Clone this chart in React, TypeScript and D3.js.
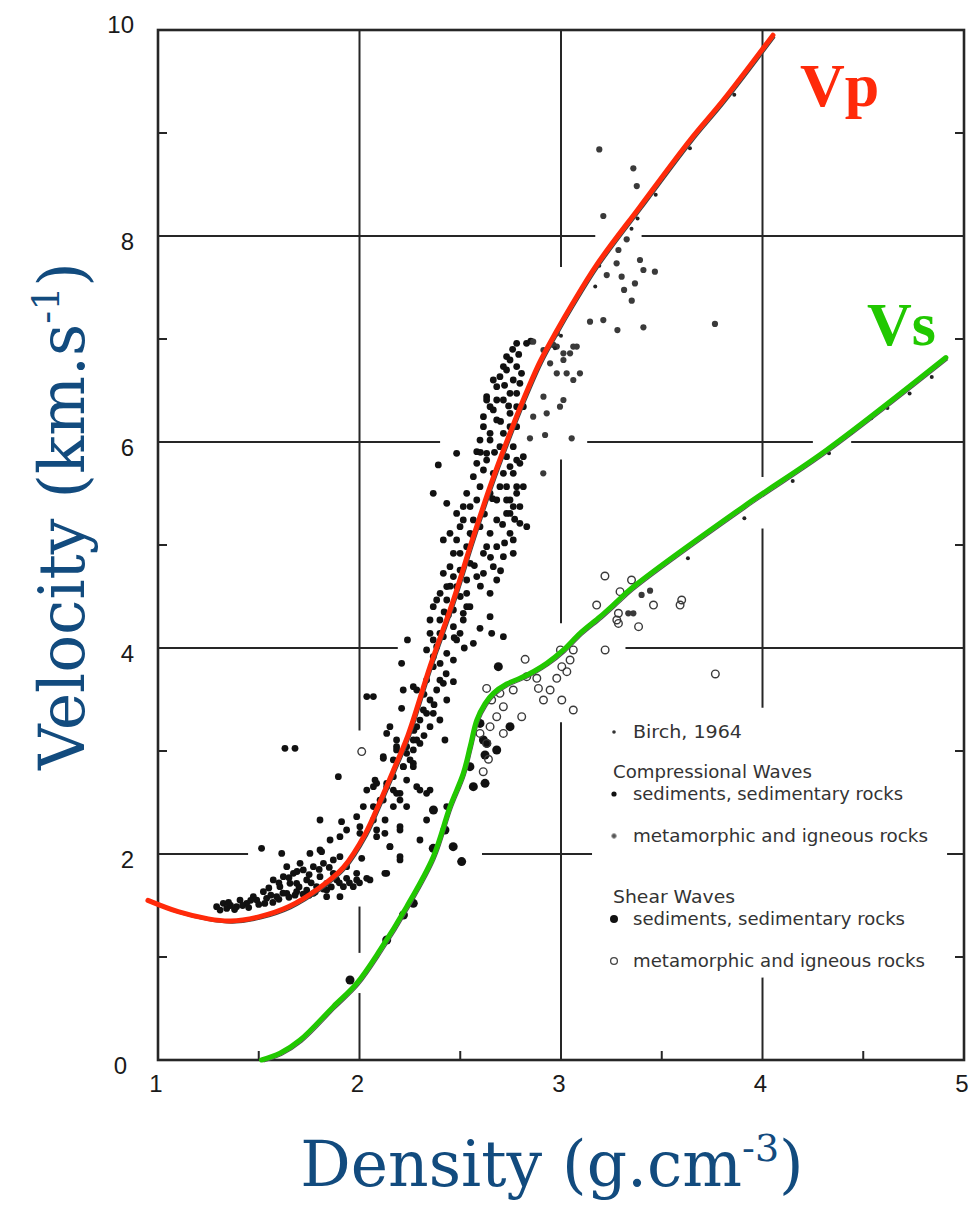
import React from "react";
import * as d3 from "d3";

const W = 980;
const H = 1207;

// axis ticks
const xTicks = [1, 2, 3, 4, 5];
const yTicks = [0, 2, 4, 6, 8, 10];
const xMinor = [1.5, 2.5, 3.5, 4.5];
const yMinor = [1, 3, 5, 7, 9];

// broken grid lines of the original figure: [position, from, to]
const gridV = [
  [2, 10, 3.2], [2, 1.49, 1.04], [2, 0.65, 0],
  [3, 10, 7.7], [3, 5.83, 4.24], [3, 3.28, 0],
  [4, 10, 5.66], [4, 5.16, 3.42], [4, 0.8, 0],
];
const gridH = [
  [8, 1, 3.17], [8, 3.4, 5],
  [6, 1, 2.4], [6, 3.13, 4.25], [6, 4.44, 5],
  [4, 1, 2.19], [4, 3.32, 5],
  [2, 1, 1.447], [2, 2.608, 3.154], [2, 4.916, 5],
];

// fitted curves (density, velocity)
const vpCurve = [
  [0.95, 1.55], [1.1, 1.44], [1.25, 1.37], [1.36, 1.35], [1.5, 1.39], [1.65, 1.49],
  [1.8, 1.67], [1.92, 1.87], [2.03, 2.2], [2.1, 2.5], [2.17, 2.82], [2.24, 3.15],
  [2.35, 3.82], [2.466, 4.466], [2.56, 5.05], [2.648, 5.566], [2.73, 6.0], [2.813, 6.41],
  [2.896, 6.78], [2.979, 7.08], [3.053, 7.33], [3.177, 7.72], [3.392, 8.285],
  [3.64, 8.93], [3.806, 9.32], [4.052, 9.95],
];
const vsCurve = [
  [1.514, 0], [1.605, 0.065], [1.705, 0.194], [1.87, 0.518], [1.986, 0.744],
  [2.102, 1.068], [2.234, 1.489], [2.366, 1.974], [2.449, 2.46], [2.515, 2.783],
  [2.55, 3.05], [2.582, 3.3], [2.623, 3.46], [2.664, 3.56], [2.73, 3.65], [2.796, 3.706],
  [2.862, 3.77], [2.929, 3.851], [3.012, 3.981], [3.094, 4.142], [3.194, 4.304],
  [3.277, 4.45], [3.35, 4.58], [3.905, 5.372], [4.318, 5.922], [4.91, 6.82],
];

// Birch, 1964 points along the curves
const birchP = [
  [2.96, 6.94], [2.99, 7.06], [3.16, 7.54], [3.18, 7.74], [3.34, 8.1], [3.37, 8.2],
  [3.46, 8.43], [3.63, 8.88], [3.85, 9.4],
];
const birchS = [
  [3.62, 4.9], [3.9, 5.29], [4.14, 5.65], [4.32, 5.92], [4.43, 6.12], [4.53, 6.26],
  [4.61, 6.36], [4.72, 6.5], [4.83, 6.66],
];

// Compressional waves — sediments, sedimentary rocks
const compSed = [
  [1.291, 1.489], [1.341, 1.472], [1.39, 1.489], [1.44, 1.521], [1.49, 1.553], [1.539, 1.57],
  [1.589, 1.586], [1.639, 1.618], [1.688, 1.634], [1.738, 1.65], [1.787, 1.683], [1.837, 1.715],
  [1.887, 1.748], [1.936, 1.764], [1.986, 1.748], [2.036, 1.764], [1.572, 1.748], [1.622, 1.78],
  [1.672, 1.812], [1.721, 1.845], [1.771, 1.877], [1.821, 1.909], [1.87, 1.942], [1.903, 1.974],
  [1.688, 1.715], [1.771, 1.618], [1.837, 1.586], [1.903, 1.586], [1.969, 1.683], [1.639, 1.877],
  [1.705, 1.909], [1.754, 2.006], [1.804, 2.039], [1.854, 2.136], [1.903, 2.168], [1.936, 2.233],
  [2.002, 2.265], [2.069, 2.33], [1.986, 2.362], [2.069, 2.46], [2.102, 2.524], [2.069, 2.654],
  [2.135, 2.686], [2.168, 2.621], [2.201, 2.589], [2.234, 2.718], [2.218, 2.848], [2.184, 3.042],
  [2.234, 2.977], [2.267, 2.88], [2.3, 3.074], [2.333, 2.589], [2.366, 2.427], [2.433, 2.46],
  [2.201, 2.265], [2.3, 2.136], [2.333, 2.33], [2.284, 2.654], [2.168, 2.46], [2.127, 2.33],
  [2.085, 2.168], [2.151, 2.071], [2.201, 1.942], [2.135, 1.812], [2.011, 1.958], [1.812, 2.023],
  [1.614, 2.006], [1.514, 2.055], [1.63, 3.026], [1.68, 3.026], [1.895, 2.751], [1.804, 2.33],
  [1.911, 2.314], [2.118, 2.929], [1.324, 1.521], [1.407, 1.553], [1.473, 1.586], [1.523, 1.634],
  [1.605, 1.683], [1.655, 1.715], [1.738, 1.748], [1.804, 1.78], [1.87, 1.812], [1.936, 1.877],
  [1.986, 1.812], [1.92, 1.683], [1.837, 1.65], [2.052, 1.748], [1.308, 1.456], [1.36, 1.5],
  [1.42, 1.5], [1.46, 1.55], [1.56, 1.6], [1.62, 1.62], [1.7, 1.68], [1.76, 1.72],
  [1.35, 1.53], [1.38, 1.46], [1.45, 1.48], [1.5, 1.51], [1.53, 1.52], [1.57, 1.53],
  [1.6, 1.56], [1.65, 1.58], [1.68, 1.6], [1.72, 1.61], [1.75, 1.6], [1.78, 1.63],
  [1.82, 1.66], [1.86, 1.68], [1.9, 1.72], [1.95, 1.72], [2.0, 1.72], [1.75, 1.8],
  [1.8, 1.85], [1.85, 1.87], [1.6, 1.72], [1.65, 1.77], [1.69, 1.83], [1.55, 1.67],
  [2.366, 4.401], [2.399, 4.272], [2.35, 4.142], [2.383, 4.013], [2.433, 3.948], [2.482, 4.078],
  [2.515, 4.272], [2.466, 4.369], [2.532, 4.401], [2.416, 4.11], [2.366, 3.819], [2.333, 3.689],
  [2.399, 3.689], [2.284, 3.592], [2.35, 3.495], [2.366, 3.366], [2.35, 3.236], [2.238, 4.078],
  [2.209, 3.851], [2.217, 3.592], [2.267, 3.625], [2.209, 3.414], [2.069, 3.528], [2.151, 3.236],
  [2.184, 3.107], [2.234, 3.042], [2.118, 2.945], [2.168, 2.913], [2.251, 2.913], [2.267, 2.848],
  [2.085, 2.686], [2.135, 2.654], [2.184, 2.589], [2.118, 2.524], [2.201, 2.524], [2.3, 2.621],
  [2.35, 2.621], [2.019, 2.46], [2.002, 2.201], [2.085, 2.233], [2.126, 2.201], [2.201, 2.233],
  [2.234, 2.46], [2.151, 2.071], [2.201, 1.974], [2.126, 1.812], [2.036, 3.528], [2.416, 3.657],
  [2.466, 3.673], [2.424, 3.107], [2.333, 3.366], [2.284, 3.107], [2.267, 3.01], [2.383, 4.466],
  [2.433, 4.466], [2.466, 4.207], [2.499, 4.142], [2.399, 4.142], [2.366, 3.916], [2.466, 3.883],
  [2.333, 3.981], [2.441, 4.32], [2.35, 4.272], [2.366, 4.078], [2.383, 3.592], [2.433, 3.495],
  [2.317, 3.398], [2.284, 3.236], [2.399, 3.301], [2.135, 3.171], [2.184, 3.01], [2.267, 3.107],
  [2.217, 2.848], [2.077, 2.718], [2.168, 2.751], [2.036, 2.621],
  [2.45, 4.6], [2.5, 4.5], [2.42, 4.35], [2.47, 4.1], [2.52, 4.0], [2.4, 3.85], [2.43, 3.75],
  [2.32, 3.55], [2.37, 3.45], [2.3, 3.3], [2.27, 3.2], [2.32, 3.15],
  [2.515, 4.337], [2.548, 4.401], [2.648, 4.304], [2.656, 4.142], [2.714, 4.11], [2.565, 4.045],
  [2.598, 4.191],
  [2.4, 4.531], [2.466, 4.693], [2.499, 4.919], [2.449, 5.113], [2.515, 5.243], [2.482, 5.307],
  [2.549, 5.372], [2.598, 5.178], [2.648, 5.113], [2.681, 5.243], [2.615, 4.919], [2.664, 4.79],
  [2.582, 4.693], [2.648, 4.531], [2.532, 4.531], [2.449, 4.79], [2.73, 5.437], [2.747, 5.307],
  [2.78, 5.502], [2.73, 5.566], [2.763, 5.696], [2.78, 5.825], [2.73, 5.858], [2.664, 5.696],
  [2.648, 5.502], [2.631, 5.89], [2.648, 6.019], [2.615, 6.149], [2.681, 6.214], [2.648, 6.343],
  [2.714, 6.408], [2.681, 6.537], [2.697, 6.634], [2.73, 6.699], [2.763, 6.602], [2.796, 6.57],
  [2.78, 6.473], [2.747, 6.278], [2.714, 6.084], [2.73, 6.829], [2.78, 6.958], [2.829, 6.958],
  [2.804, 6.667], [2.482, 5.89], [2.391, 5.777], [2.366, 5.502], [2.433, 5.405], [2.416, 5.049],
  [2.631, 6.44], [2.582, 5.906], [2.83, 5.178], [2.763, 5.049], [2.763, 4.919], [2.796, 5.21],
  [2.433, 4.596], [2.482, 4.596], [2.532, 4.66], [2.416, 4.725], [2.499, 4.757], [2.549, 4.822],
  [2.466, 4.919], [2.532, 4.984], [2.482, 5.049], [2.549, 5.113], [2.499, 5.178], [2.565, 5.243],
  [2.515, 5.372], [2.582, 5.437], [2.532, 5.502], [2.598, 5.566], [2.565, 5.663], [2.615, 5.728],
  [2.582, 5.793], [2.631, 5.825], [2.598, 6.019], [2.648, 6.084], [2.615, 6.246], [2.664, 6.311],
  [2.631, 6.408], [2.664, 6.602], [2.714, 6.732], [2.747, 6.796], [2.78, 6.732], [2.747, 6.473],
  [2.697, 5.566], [2.714, 5.696], [2.681, 5.437], [2.747, 5.437], [2.763, 5.372], [2.78, 5.566],
  [2.73, 5.307], [2.631, 4.984], [2.681, 4.984], [2.615, 4.725], [2.681, 4.66], [2.714, 4.887],
  [2.747, 5.113], [2.796, 5.372], [2.813, 5.566], [2.747, 5.761], [2.796, 5.793], [2.813, 5.858],
  [2.697, 5.955], [2.763, 5.955], [2.747, 6.149], [2.681, 6.408], [2.78, 6.343], [2.813, 6.343],
  [2.78, 6.149],
  [2.57, 4.8], [2.6, 4.6], [2.56, 5.1], [2.62, 5.3], [2.66, 5.45], [2.6, 5.9], [2.67, 5.9],
  [2.7, 6.2], [2.74, 6.35], [2.72, 6.55], [2.76, 6.9], [2.79, 6.85], [2.85, 6.98],
  [2.71, 5.2], [2.77, 5.25], [2.72, 5.02], [2.65, 4.88], [2.7, 4.75],
];

// Compressional waves — metamorphic and igneous rocks
const compMeta = [
  [2.862, 6.246], [2.929, 6.278], [2.913, 6.44], [2.979, 6.667], [3.012, 6.796], [3.045, 6.861],
  [3.078, 6.926], [3.028, 6.667], [3.061, 6.602], [3.094, 6.667], [2.946, 6.764], [3.012, 6.408],
  [2.995, 6.343], [2.921, 6.068], [2.846, 6.036], [3.053, 6.036], [2.912, 5.696], [3.144, 7.168],
  [3.21, 7.184], [2.979, 7.055], [2.913, 6.893], [2.979, 6.926], [2.862, 6.974],
  [3.19, 8.841], [3.359, 8.657], [3.376, 8.485], [3.21, 8.194], [3.326, 7.968], [3.285, 7.864],
  [3.276, 7.735], [3.392, 7.767], [3.409, 7.67], [3.466, 7.654], [3.227, 7.621], [3.301, 7.605],
  [3.367, 7.54], [3.313, 7.476], [3.351, 7.372], [3.28, 7.087], [3.409, 7.113], [3.764, 7.146],
  [3.061, 6.926], [3.012, 6.861], [2.962, 6.942],
  [3.4, 4.515], [3.442, 4.557], [3.334, 4.337], [3.359, 4.337],
];

// Shear waves — sediments, sedimentary rocks
const shearSed = [
  [2.267, 1.521], [2.218, 1.408], [2.135, 1.165], [1.953, 0.777], [2.465, 2.071], [2.507, 1.926],
  [2.565, 2.654], [2.623, 2.686], [2.548, 2.848], [2.623, 2.961], [2.681, 3.01], [2.632, 3.074],
  [2.424, 2.233], [2.366, 2.055], [2.367, 2.427], [2.747, 3.236], [2.689, 3.819], [2.598, 3.268],
  [2.615, 3.107],
];

// Shear waves — metamorphic and igneous rocks
const shearMeta = [
  [3.177, 4.417], [3.277, 4.272], [3.385, 4.207], [3.459, 4.417], [3.591, 4.417], [3.599, 4.466],
  [3.219, 3.981], [2.822, 3.89], [2.997, 3.981], [3.061, 3.981], [3.045, 3.883], [3.004, 3.819],
  [3.029, 3.77], [2.979, 3.706], [2.88, 3.706], [2.888, 3.608], [2.946, 3.592], [2.913, 3.495],
  [3.004, 3.495], [3.061, 3.398], [2.805, 3.333], [2.83, 3.722], [2.763, 3.592], [2.697, 3.56],
  [2.656, 3.495], [2.631, 3.608], [2.714, 3.43], [2.681, 3.333], [2.648, 3.236], [2.714, 3.171],
  [2.631, 3.074], [2.598, 3.171], [3.766, 3.748], [3.218, 4.699], [3.35, 4.66], [3.293, 4.547],
  [3.285, 4.337], [3.285, 4.239], [2.614, 2.799], [2.64, 2.92], [2.011, 2.994],
];

const legendItems = [
  { label: "Birch, 1964", marker: "birch", baseline: 738, indent: true, len: 109 },
  { label: "Compressional Waves", marker: "", baseline: 778, indent: false, len: 199 },
  { label: "sediments, sedimentary rocks", marker: "compSed", baseline: 800, indent: true, len: 270 },
  { label: "metamorphic and igneous rocks", marker: "compMeta", baseline: 842, indent: true, len: 295 },
  { label: "Shear Waves", marker: "", baseline: 903, indent: false, len: 122 },
  { label: "sediments, sedimentary rocks", marker: "shearSed", baseline: 925, indent: true, len: 272 },
  { label: "metamorphic and igneous rocks", marker: "shearMeta", baseline: 967, indent: true, len: 292 },
];

const RED = "#ff2a0a";
const GREEN = "#21c800";
const BLUE = "#124b7e";
const INK = "#262626";

export default function App() {
  const x = d3.scaleLinear().domain([1, 5]).range([158, 964]);
  const y = d3.scaleLinear().domain([0, 10]).range([1060, 30]);
  const line = d3
    .line<number[]>()
    .x((d) => x(d[0]))
    .y((d) => y(d[1]))
    .curve(d3.curveCatmullRom.alpha(0.5));

  const marker = (kind: string, cx: number, cy: number) => {
    if (kind === "birch") return <circle cx={cx} cy={cy} r={1.8} fill="#333" />;
    if (kind === "compSed") return <circle cx={cx} cy={cy} r={2.6} fill="#111" />;
    if (kind === "compMeta")
      return <circle cx={cx} cy={cy} r={2.4} fill="#555" stroke="#aaa" strokeWidth={1} />;
    if (kind === "shearSed") return <circle cx={cx} cy={cy} r={4} fill="#111" />;
    if (kind === "shearMeta")
      return <circle cx={cx} cy={cy} r={3.4} fill="none" stroke="#444" strokeWidth={1.3} />;
    return null;
  };

  return (
    <svg
      width={W}
      height={H}
      viewBox={`0 0 ${W} ${H}`}
      style={{ position: "absolute", left: 0, top: 0, background: "#fff" }}
    >
      <rect width={W} height={H} fill="#fff" />

      {/* grid */}
      <g stroke={INK} strokeWidth={2}>
        {gridV.map((g, i) => (
          <line key={"v" + i} x1={x(g[0])} x2={x(g[0])} y1={y(g[1])} y2={y(g[2])} />
        ))}
        {gridH.map((g, i) => (
          <line key={"h" + i} x1={x(g[1])} x2={x(g[2])} y1={y(g[0])} y2={y(g[0])} />
        ))}
        {xMinor.map((v) => (
          <line key={"xm" + v} x1={x(v)} x2={x(v)} y1={y(0)} y2={y(0) - 9} />
        ))}
        {yMinor.map((v) => (
          <g key={"ym" + v}>
            <line x1={x(1)} x2={x(1) + 9} y1={y(v)} y2={y(v)} />
            <line x1={x(5)} x2={x(5) - 9} y1={y(v)} y2={y(v)} />
          </g>
        ))}
      </g>
      <rect
        x={x(1)}
        y={y(10)}
        width={x(5) - x(1)}
        height={y(0) - y(10)}
        fill="none"
        stroke={INK}
        strokeWidth={2.6}
      />

      {/* tick labels */}
      <g fontFamily="'Liberation Sans', Arial, sans-serif" fontSize={24} fill="#1a1a1a">
        {yTicks.map((v) => (
          <text
            key={"yt" + v}
            x={v === 0 ? 127 : 134}
            y={v === 10 ? y(v) + 3 : y(v) + 14}
            textAnchor="end"
          >
            {v}
          </text>
        ))}
        {xTicks.map((v) => (
          <text key={"xt" + v} x={x(v) - 2} y={1092} textAnchor="middle">
            {v}
          </text>
        ))}
      </g>

      {/* data points */}
      <g>
        {compSed.map((d, i) => (
          <circle key={"cs" + i} cx={x(d[0])} cy={y(d[1])} r={3.4} fill="#111" />
        ))}
        {compMeta.map((d, i) => (
          <circle key={"cm" + i} cx={x(d[0])} cy={y(d[1])} r={3.1} fill="#3a3a3a" />
        ))}
        {shearSed.map((d, i) => (
          <circle key={"ss" + i} cx={x(d[0])} cy={y(d[1])} r={4.5} fill="#111" />
        ))}
        {shearMeta.map((d, i) => (
          <circle
            key={"sm" + i}
            cx={x(d[0])}
            cy={y(d[1])}
            r={3.8}
            fill="none"
            stroke="#3a3a3a"
            strokeWidth={1.4}
          />
        ))}
        {birchP.concat(birchS).map((d, i) => (
          <circle key={"b" + i} cx={x(d[0]) + 2} cy={y(d[1]) + 3} r={2} fill="#222" />
        ))}
      </g>

      {/* original thin curves under the overlays */}
      <path d={line(vpCurve) || ""} transform="translate(2,2)" fill="none" stroke="#444" strokeWidth={1.4} />
      <path d={line(vsCurve) || ""} transform="translate(2,2)" fill="none" stroke="#555" strokeWidth={1.2} />

      {/* coloured overlays */}
      <path d={line(vpCurve) || ""} fill="none" stroke={RED} strokeWidth={5} strokeLinecap="round" strokeLinejoin="round" />
      <path d={line(vsCurve) || ""} fill="none" stroke={GREEN} strokeWidth={5} strokeLinecap="round" strokeLinejoin="round" />

      {/* curve labels */}
      <text x={800} y={106} fontFamily="'Liberation Serif', 'Times New Roman', serif" fontWeight="bold" fontSize={62} fill={RED}>
        Vp
      </text>
      <text x={867} y={345} fontFamily="'Liberation Serif', 'Times New Roman', serif" fontWeight="bold" fontSize={62} fill={GREEN}>
        Vs
      </text>

      {/* legend */}
      <g fontFamily="'DejaVu Sans', sans-serif" fontSize={17} fill="#333">
        {legendItems.map((it, i) => (
          <g key={"lg" + i}>
            {it.marker ? marker(it.marker, 614, it.baseline - 6) : null}
            <text
              x={it.indent ? 633 : 613}
              y={it.baseline}
              textLength={it.len}
              lengthAdjust="spacingAndGlyphs"
            >
              {it.label}
            </text>
          </g>
        ))}
      </g>

      {/* axis titles */}
      <text
        x={552}
        y={1186}
        textAnchor="middle"
        fontFamily="'DejaVu Serif', serif"
        fontSize={63}
        fill={BLUE}
      >
        Density (g.cm
        <tspan fontSize={38} dy={-25}>-3</tspan>
        <tspan dy={25}>)</tspan>
      </text>
      <text
        transform="translate(84,516) rotate(-90)"
        textAnchor="middle"
        fontFamily="'DejaVu Serif', serif"
        fontSize={63}
        fill={BLUE}
      >
        Velocity (km.s
        <tspan fontSize={38} dy={-25}>-1</tspan>
        <tspan dy={25}>)</tspan>
      </text>
    </svg>
  );
}
